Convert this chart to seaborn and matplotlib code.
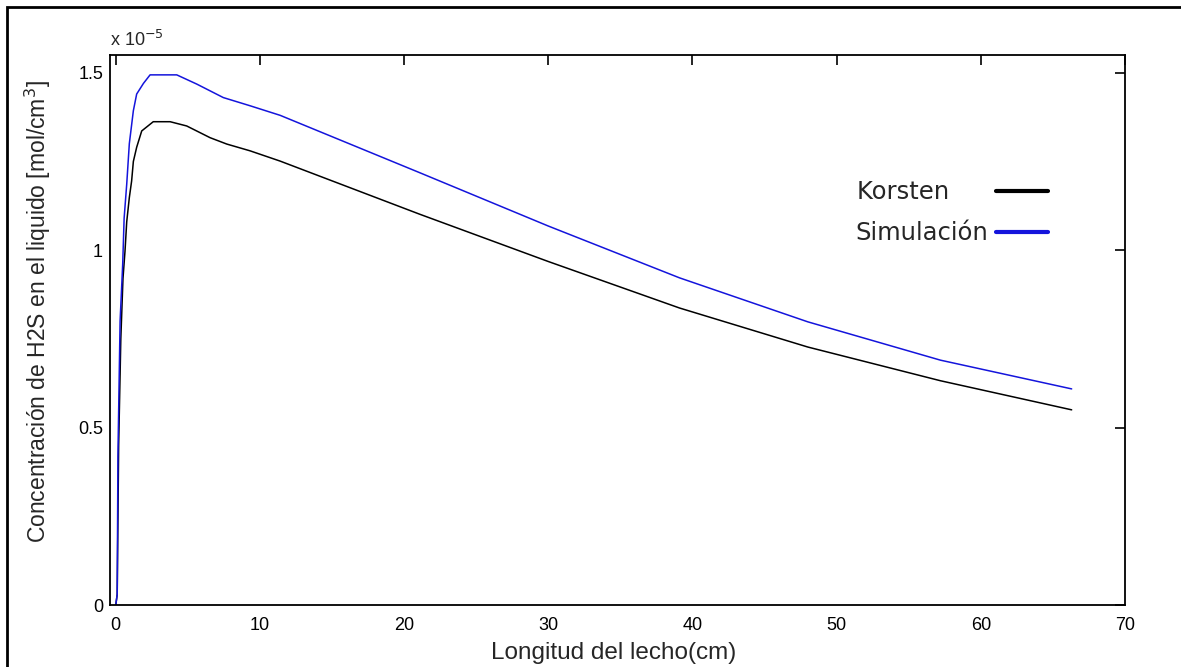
import matplotlib
matplotlib.use("Agg")
import matplotlib.pyplot as plt
import matplotlib.patches as patches
from matplotlib import font_manager
import seaborn as sns
import pandas as pd

# longitud del lecho (cm) y concentracion (x 1e-5 mol/cm3)
x_korsten = [0.0, 0.1, 0.2, 0.35, 0.5, 0.64, 0.76, 0.94, 1.1, 1.22, 1.45, 1.8, 2.6, 3.77,
             4.92, 6.54, 7.7, 9.31, 11.4, 21.1, 30.0, 39.1, 48.0, 57.2, 66.3]
y_korsten = [0.0, 0.03, 0.45, 0.75, 0.92, 0.997, 1.08, 1.148, 1.195, 1.25, 1.29, 1.336, 1.362, 1.362,
             1.35, 1.317, 1.299, 1.28, 1.251, 1.101, 0.968, 0.837, 0.727, 0.632, 0.55]

x_sim = [0.0, 0.1, 0.15, 0.3, 0.48, 0.58, 0.76, 0.94, 1.22, 1.45, 1.92, 2.38, 4.23,
         5.62, 7.46, 9.31, 11.4, 21.1, 30.0, 39.1, 48.0, 57.2, 66.3]
y_sim = [0.0, 0.03, 0.42, 0.8, 0.96, 1.09, 1.186, 1.30, 1.393, 1.44, 1.47, 1.494, 1.494,
         1.468, 1.43, 1.407, 1.38, 1.218, 1.068, 0.922, 0.798, 0.69, 0.609]

series = ["Korsten", "Simulación"]
colors = ["#000000", "#1414dc"]

df = pd.concat([
    pd.DataFrame({"x": x_korsten, "y": y_korsten, "serie": series[0]}),
    pd.DataFrame({"x": x_sim, "y": y_sim, "serie": series[1]}),
])

sns.set_style("white")
plt.rcParams["font.family"] = ["Liberation Sans", "DejaVu Sans"]

names = {f.name for f in font_manager.fontManager.ttflist}
if "Liberation Sans Narrow" in names:
    tick_font = {"family": "Liberation Sans Narrow", "size": 15}
else:
    tick_font = {"family": "Liberation Sans", "size": 13}

fig = plt.figure(figsize=(11.81, 6.67), dpi=100)
ax = fig.add_axes([110 / 1181, 62 / 667, 1015 / 1181, 550 / 667])

sns.lineplot(data=df, x="x", y="y", hue="serie", palette=colors, linewidth=1.1,
             sort=False, estimator=None, ax=ax)

ax.set_xlim(-0.4, 70)
ax.set_ylim(0, 1.55)
ax.set_xticks(range(0, 71, 10))
ax.set_xticklabels([str(v) for v in range(0, 71, 10)], fontdict=tick_font)
ax.set_yticks([0, 0.5, 1, 1.5])
ax.set_yticklabels(["0", "0.5", "1", "1.5"], fontdict=tick_font)
ax.tick_params(direction="in", length=7, width=1.2, top=True, right=True,
               colors="black", pad=5)
ax.tick_params(axis="x", pad=9)
for s in ax.spines.values():
    s.set_linewidth(1.3)
    s.set_color("black")

ax.set_xlabel("Longitud del lecho(cm)", fontsize=17.5)
ax.xaxis.set_label_coords(0.4966, -0.068)
ax.set_ylabel("Concentración de H2S en el liquido [mol/cm$^3$]", fontsize=16.5)
ax.yaxis.set_label_coords(-0.071, 0.533)
ax.yaxis.label.set_va("center")

# etiquetas alineadas a la izquierda como en la figura original
handles, labels = ax.get_legend_handles_labels()
labels = ["Korsten     ", "Simulación"]
leg = ax.legend(handles, labels, frameon=False, markerfirst=False,
                prop={"family": "DejaVu Sans", "size": 17.5}, handlelength=2.15,
                handletextpad=0.33, loc="upper left", bbox_to_anchor=(0.734, 0.772),
                labelspacing=0.7, borderaxespad=0, borderpad=0)
for line in leg.get_lines():
    line.set_linewidth(3)

fig.text(110 / 1181, 1 - 40 / 667, "x 10$^{-5}$", fontdict=tick_font, ha="left", va="center")

fig.patches.append(patches.Rectangle((7 / 1181, -0.1), 1.2, 1.1 - 7 / 667,
                                     transform=fig.transFigure, fill=False,
                                     edgecolor="black", linewidth=2, clip_on=False))

fig.savefig("out.png", dpi=100)
